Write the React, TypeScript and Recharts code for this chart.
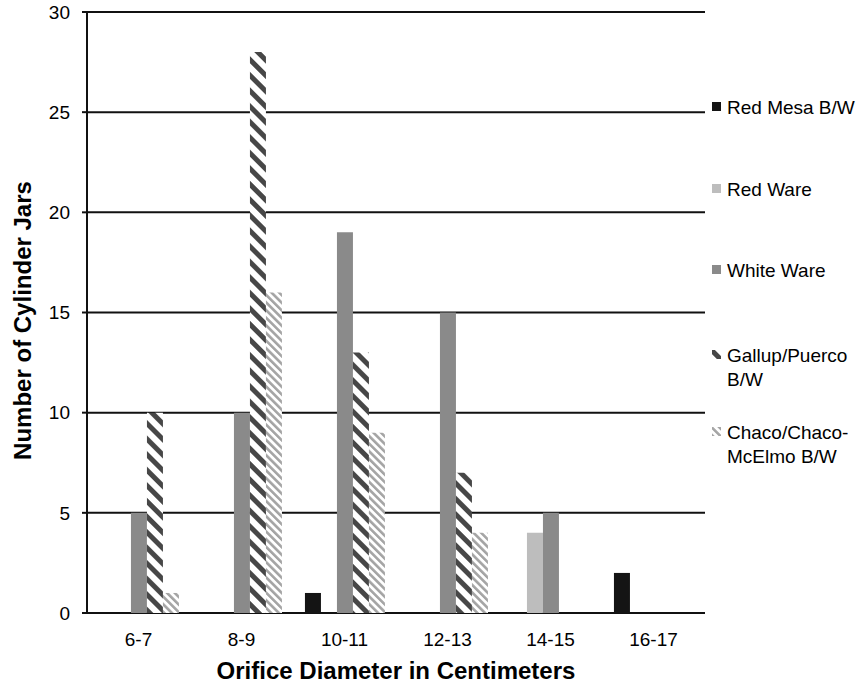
import React from 'react';
import { BarChart, Bar, XAxis, YAxis, CartesianGrid } from 'recharts';

// orifice diameter bins (cm)
const categories = ['6-7', '8-9', '10-11', '12-13', '14-15', '16-17'];

// counts per ware type
const redMesa = [0, 0, 1, 0, 0, 2];
const redWare = [0, 0, 0, 0, 4, 0];
const whiteWare = [5, 10, 19, 15, 5, 0];
const gallupPuerco = [10, 28, 13, 7, 0, 0];
const chacoMcElmo = [1, 16, 9, 4, 0, 0];

const yTicks = [0, 5, 10, 15, 20, 25, 30];
const edgeTicks = [0, 1, 2, 3, 4, 5, 6];

const seriesKeys = ['redMesa', 'redWare', 'whiteWare', 'gallup', 'chaco'];
const seriesNames = ['Red Mesa B/W', 'Red Ware', 'White Ware', 'Gallup/Puerco B/W', 'Chaco/Chaco-McElmo B/W'];
const legendLines = [['Red Mesa B/W'], ['Red Ware'], ['White Ware'], ['Gallup/Puerco', 'B/W'], ['Chaco/Chaco-', 'McElmo B/W']];
const seriesFills = ['#141414', '#bdbdbd', '#8a8a8a', 'url(#gallupStripe)', 'url(#chacoStripe)'];

const FONT = '"Liberation Sans", Arial, Helvetica, sans-serif';

const data = categories.map((range, i) => ({
  range,
  redMesa: redMesa[i],
  redWare: redWare[i],
  whiteWare: whiteWare[i],
  gallup: gallupPuerco[i],
  chaco: chacoMcElmo[i],
}));

function Patterns() {
  return (
    <defs>
      <pattern id="gallupStripe" patternUnits="userSpaceOnUse" width={11} height={11} patternTransform="rotate(-45)">
        <rect x={0} y={0} width={11} height={11} fill="#ffffff" />
        <rect x={0} y={0} width={5} height={11} fill="#474747" />
      </pattern>
      <pattern id="chacoStripe" patternUnits="userSpaceOnUse" width={5.4} height={5.4} patternTransform="rotate(-45)">
        <rect x={0} y={0} width={5.4} height={5.4} fill="#ffffff" />
        <rect x={0} y={0} width={2.6} height={5.4} fill="#a4a4a4" />
      </pattern>
    </defs>
  );
}

const XTitle = ({ viewBox }: any) => (
  <text
    x={viewBox.x + viewBox.width / 2}
    y={viewBox.y + 66}
    textAnchor="middle"
    fontFamily={FONT}
    fontWeight="bold"
    fontSize={24}
    fill="#000"
  >
    Orifice Diameter in Centimeters
  </text>
);

const YTitle = ({ viewBox }: any) => {
  const cy = viewBox.y + viewBox.height / 2 + 8;
  return (
    <text
      x={31}
      y={cy}
      transform={`rotate(-90, 31, ${cy})`}
      textAnchor="middle"
      fontFamily={FONT}
      fontWeight="bold"
      fontSize={24}
      fill="#000"
    >
      Number of Cylinder Jars
    </text>
  );
};

// legend text baselines on the right
const legendBaselines = [114, 196, 277, 362, 439];

function LegendOverlay() {
  return (
    <svg width={866} height={683} style={{ position: 'absolute', left: 0, top: 0, pointerEvents: 'none' }}>
      <Patterns />
      {seriesNames.map((name, i) => (
        <g key={name}>
          <rect x={712} y={legendBaselines[i] - 12} width={9} height={9} fill={seriesFills[i]} />
          {legendLines[i].map((line, j) => (
            <text key={line} x={727} y={legendBaselines[i] + j * 24} fontFamily={FONT} fontSize={19} fill="#000">
              {line}
            </text>
          ))}
        </g>
      ))}
    </svg>
  );
}

export default function App() {
  return (
    <div style={{ position: 'absolute', left: 0, top: 0, width: 866, height: 683, background: '#fff' }}>
      <BarChart
        width={866}
        height={683}
        data={data}
        margin={{ top: 12, right: 161, bottom: 0, left: 0 }}
        barCategoryGap="11.6%"
        barGap={0}
      >
        <Patterns />
        <CartesianGrid xAxisId="cat" horizontal vertical={false} stroke="#111" strokeWidth={2} />
        <XAxis
          xAxisId="edges"
          type="number"
          domain={[0, 6]}
          ticks={edgeTicks}
          height={0}
          tick={false}
          tickSize={7}
          axisLine={{ stroke: '#111', strokeWidth: 2 }}
          tickLine={{ stroke: '#111', strokeWidth: 2 }}
        />
        <XAxis
          xAxisId="cat"
          dataKey="range"
          height={70}
          axisLine={false}
          tickLine={false}
          tickSize={0}
          tickMargin={20}
          tick={{ fontFamily: FONT, fontSize: 19, fill: '#000' }}
          label={<XTitle />}
        />
        <YAxis
          width={87}
          domain={[0, 30]}
          ticks={yTicks}
          interval={0}
          tickSize={5}
          tickMargin={12}
          axisLine={{ stroke: '#111', strokeWidth: 2 }}
          tickLine={{ stroke: '#111', strokeWidth: 2 }}
          tick={{ fontFamily: FONT, fontSize: 19, fill: '#000' }}
          label={<YTitle />}
        />
        {seriesKeys.map((key, i) => (
          <Bar
            key={key}
            xAxisId="cat"
            dataKey={key}
            name={seriesNames[i]}
            fill={seriesFills[i]}
            isAnimationActive={false}
          />
        ))}
      </BarChart>
      <LegendOverlay />
    </div>
  );
}
